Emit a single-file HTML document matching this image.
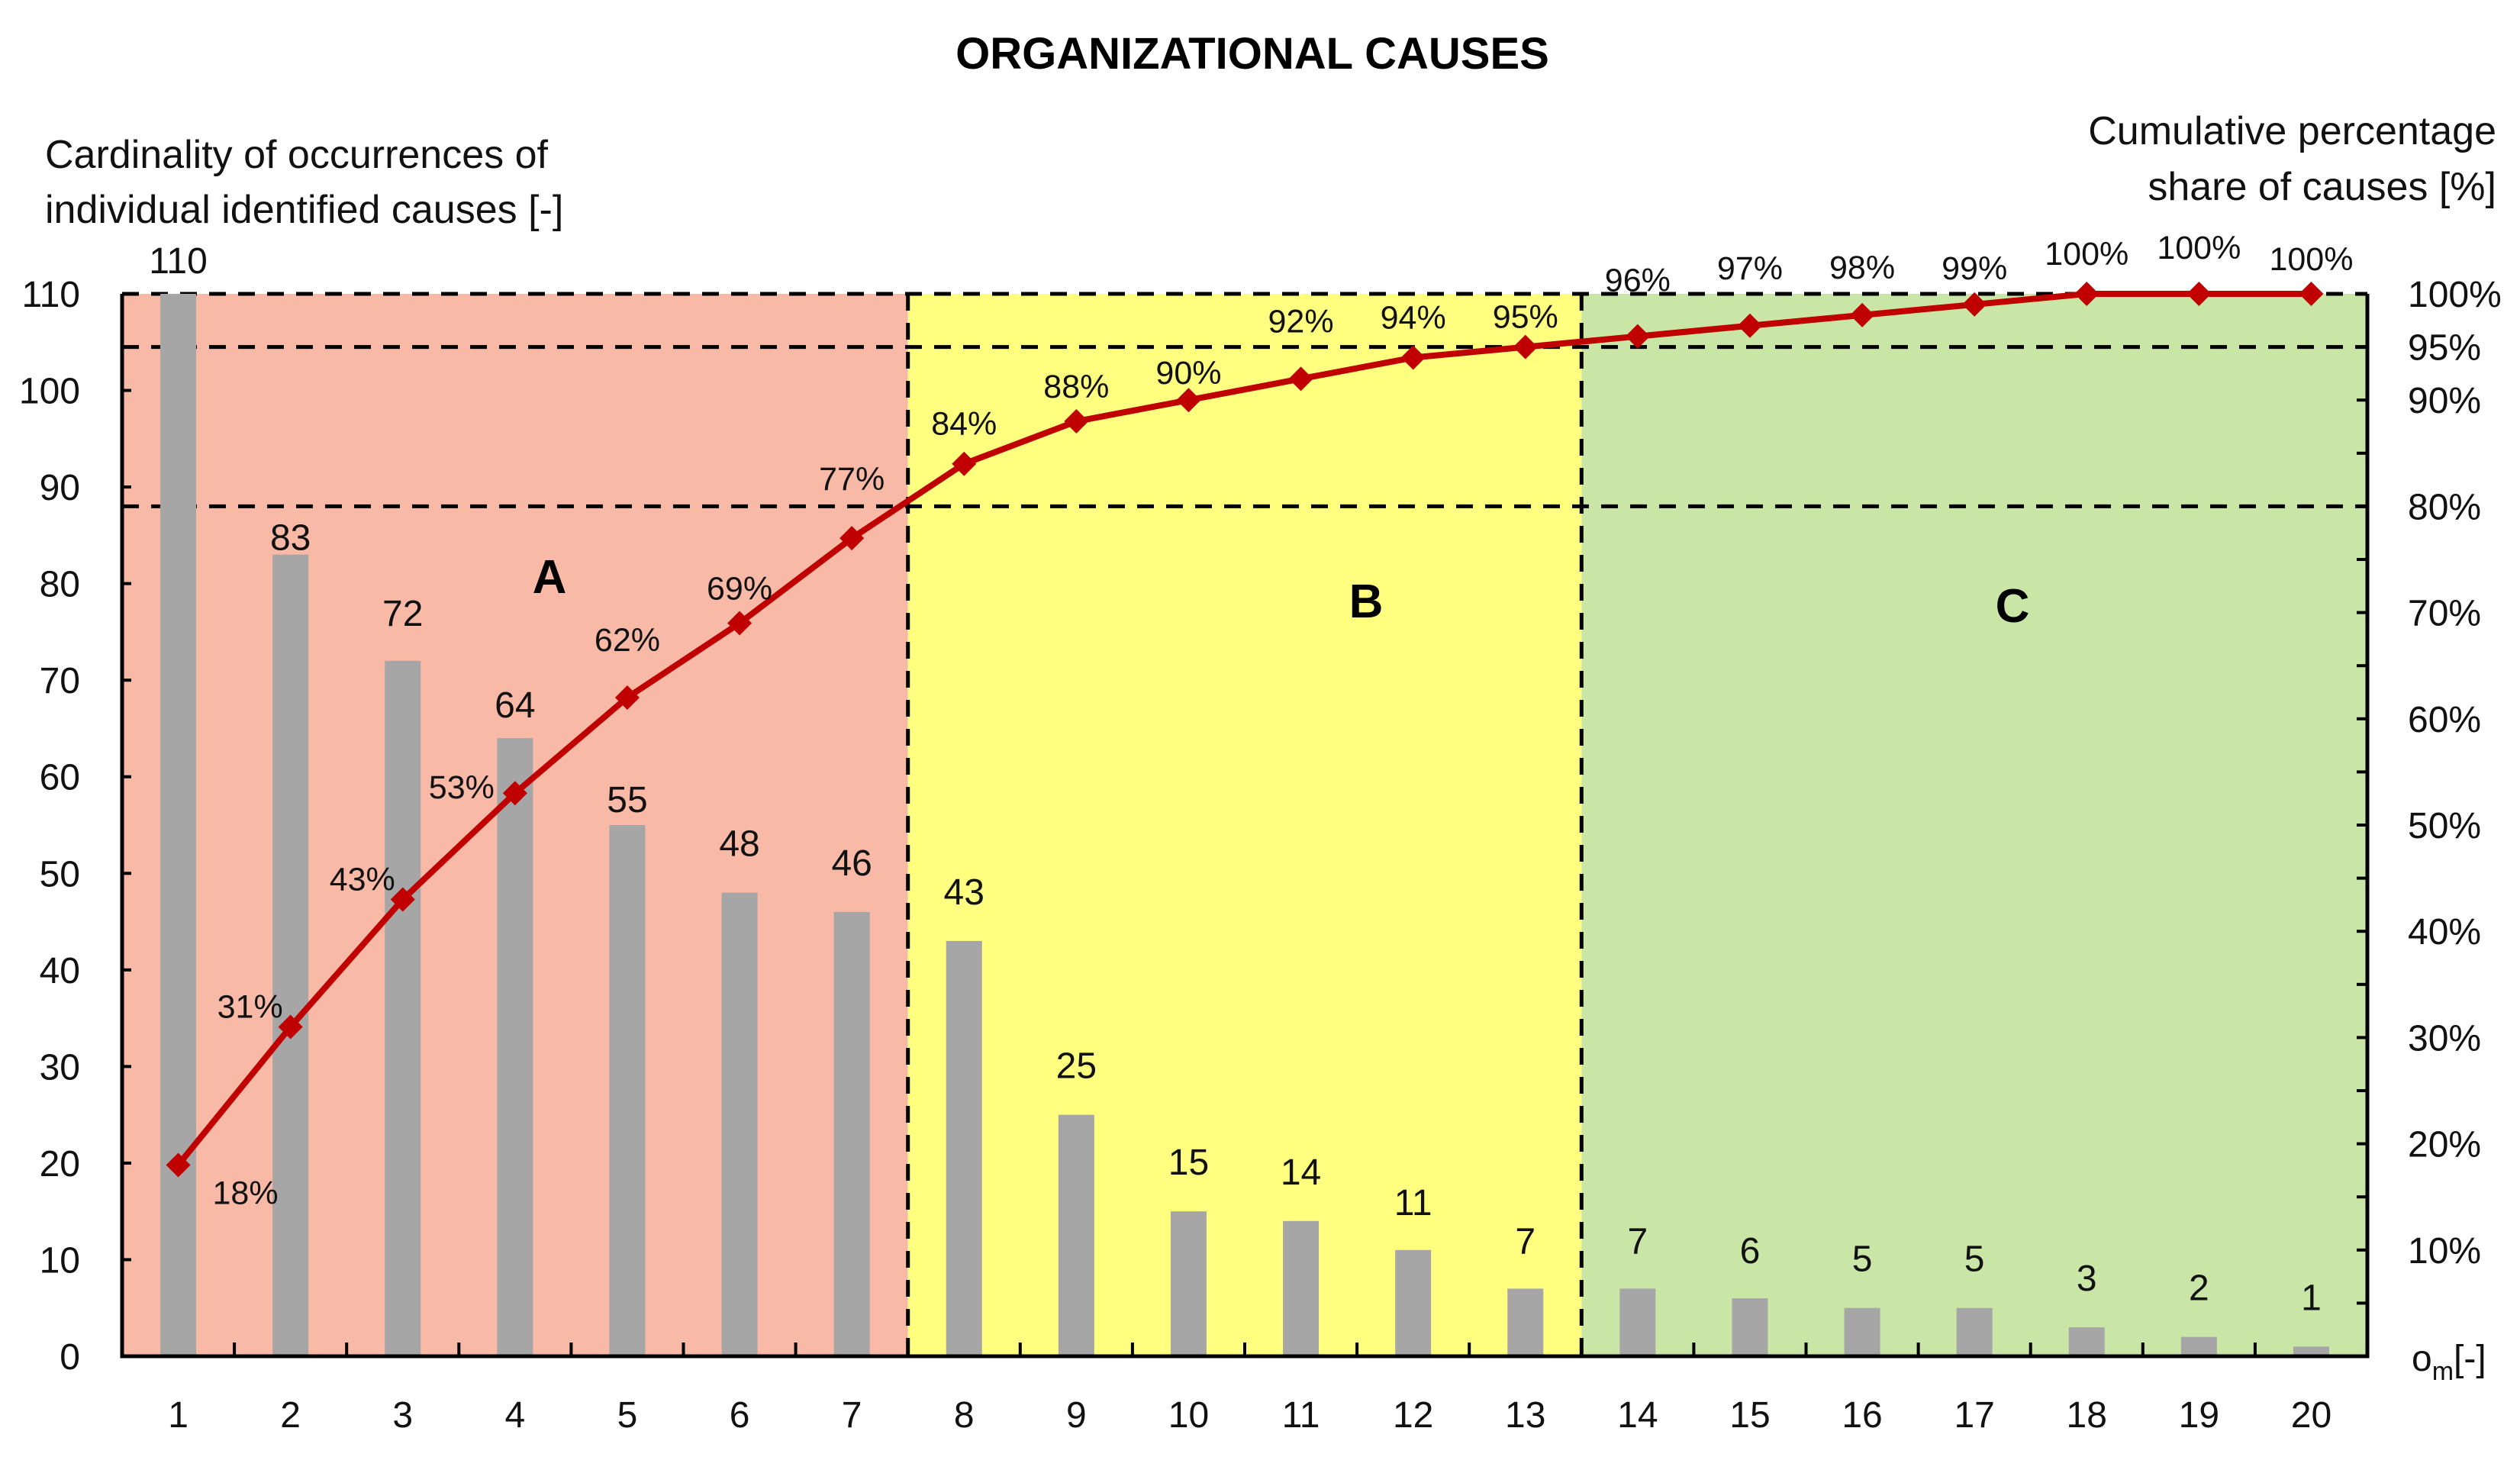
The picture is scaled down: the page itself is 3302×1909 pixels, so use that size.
<!DOCTYPE html>
<html><head><meta charset="utf-8">
<style>
html,body{margin:0;padding:0;background:#fff;}
svg{display:block;font-family:"Liberation Sans",sans-serif;}
</style></head>
<body>
<svg id="chart" width="3302" height="1909" viewBox="0 0 3302 1909" xmlns="http://www.w3.org/2000/svg">
<g id="bg"></g><g id="grid"></g><g id="bars"></g><g id="line"></g><g id="labels"></g><g id="axes"></g>
<text x="1641" y="90" text-anchor="middle" font-size="58" font-weight="bold" fill="#000">ORGANIZATIONAL CAUSES</text>
<text x="59" y="220" font-size="52" fill="#111">Cardinality of occurrences of</text>
<text x="59" y="292" font-size="52" fill="#111">individual identified causes [-]</text>
<text x="3271" y="189" text-anchor="end" font-size="52" fill="#111">Cumulative percentage</text>
<text x="3271" y="262" text-anchor="end" font-size="52" fill="#111">share of causes [%]</text>
<text x="3160" y="1796" font-size="48" fill="#111">o<tspan font-size="34" dy="12">m</tspan><tspan dy="-12">[-]</tspan></text>
<text x="720" y="777" text-anchor="middle" font-size="62" font-weight="bold">A</text>
<text x="1790" y="809" text-anchor="middle" font-size="62" font-weight="bold">B</text>
<text x="2637" y="815" text-anchor="middle" font-size="62" font-weight="bold">C</text>
</svg>
<script>
const categories=[1,2,3,4,5,6,7,8,9,10,11,12,13,14,15,16,17,18,19,20];
const counts=[110,83,72,64,55,48,46,43,25,15,14,11,7,7,6,5,5,3,2,1];
const cumulative=[18,31,43,53,62,69,77,84,88,90,92,94,95,96,97,98,99,100,100,100];
const leftTicks=[0,10,20,30,40,50,60,70,80,90,100,110];
const rightTickLabels=[0,10,20,30,40,50,60,70,80,90,95,100];
const zoneBreaks=[7,13];

const L=160,R=3102,T=385,B=1777,N=categories.length,cw=(R-L)/N;
const yL=v=>B-(v/110)*(B-T);
const yR=p=>B-(p/100)*(B-T);
const xC=i=>L+cw*(i+0.5);
const NS="http://www.w3.org/2000/svg";
function mk(parent,tag,attrs){const e=document.createElementNS(NS,tag);for(const k in attrs)e.setAttribute(k,attrs[k]);document.getElementById(parent).appendChild(e);return e;}

const zb=[0,zoneBreaks[0],zoneBreaks[1],N],zc=["#f8b9a7","#ffff80","#c9e6a6"];
for(let z=0;z<3;z++){
 const r=mk('bg','rect',{x:L+zb[z]*cw,y:T,width:(zb[z+1]-zb[z])*cw,height:B-T,fill:zc[z]});
 
 
}
const bw=47;
const barLabelDy=[-44,-23,-63,-44,-34,-65,-65,-65,-65,-65,-65,-63,-63,-63,-63,-65,-65,-65,-65,-65];
counts.forEach((v,i)=>{
 const b=mk('bars','rect',{x:xC(i)-bw/2,y:yL(v),width:bw,height:B-yL(v),fill:"#a6a6a6"});
 
 
 const t=mk('labels','text',{x:xC(i),y:yL(v)+barLabelDy[i]+17,'text-anchor':'middle','font-size':48,fill:'#111'});
 t.textContent=v;
 
 
});
[100,95,80].forEach(p=>{
 const l=mk('grid','line',{x1:L,x2:R,y1:yR(p),y2:yR(p),stroke:'#000','stroke-width':5,'stroke-dasharray':'22 16'});
 
 
});
zoneBreaks.forEach(k=>{
 const l=mk('grid','line',{x1:L+k*cw,x2:L+k*cw,y1:T,y2:B,stroke:'#000','stroke-width':5,'stroke-dasharray':'22 16'});
 
 
});
const pts=cumulative.map((p,i)=>xC(i)+','+yR(p)).join(' ');
const pl=mk('line','polyline',{points:pts,fill:'none',stroke:'#c00000','stroke-width':8,'stroke-linejoin':'round'});


const pdx=[88,-53,-53,-70,0,0,0,0,0,0,0,0,0,0,0,0,0,0,0,0];
const pdy=[36,-27,-27,-8,-76,-46,-78,-53,-46,-36,-76,-53,-40,-74,-76,-63,-48,-53,-61,-46];
cumulative.forEach((p,i)=>{
 const x=xC(i),y=yR(p),s=16;
 const m=mk('line','polygon',{points:`${x},${y-s} ${x+s},${y} ${x},${y+s} ${x-s},${y}`,fill:'#c00000'});
 
 
 const t=mk('labels','text',{x:x+pdx[i],y:y+pdy[i]+15,'text-anchor':'middle','font-size':43,fill:'#111'});
 t.textContent=p+'%';
 
 
});
const ax=mk('axes','path',{d:`M${L},${T} L${L},${B} L${R},${B} L${R},${T}`,fill:'none',stroke:'#000','stroke-width':5});


leftTicks.forEach(v=>{
 const tk=mk('axes','line',{x1:L,x2:L+12,y1:yL(v),y2:yL(v),stroke:'#000','stroke-width':4});
 
 
 const t=mk('axes','text',{x:105,y:yL(v)+17,'text-anchor':'end','font-size':48,fill:'#111'});
 t.textContent=v;
 
 
});
for(let p=5;p<=100;p+=5){
 const tk=mk('axes','line',{x1:R-14,x2:R,y1:yR(p),y2:yR(p),stroke:'#000','stroke-width':4});
 
 
}
rightTickLabels.forEach(p=>{
 if(p===0)return;
 const t=mk('axes','text',{x:3155,y:yR(p)+17,'font-size':48,fill:'#111'});
 t.textContent=p+'%';
 
 
});
for(let i=1;i<N;i++){
 const tk=mk('axes','line',{x1:L+i*cw,x2:L+i*cw,y1:B,y2:B-18,stroke:'#000','stroke-width':4});
 
 
}
categories.forEach((c,i)=>{
 const t=mk('axes','text',{x:xC(i),y:1870,'text-anchor':'middle','font-size':48,fill:'#111'});
 t.textContent=c;
 
 
});
</script>
</body></html>
